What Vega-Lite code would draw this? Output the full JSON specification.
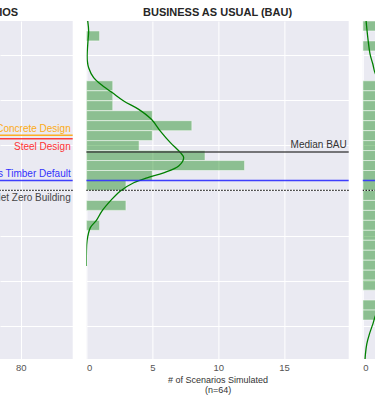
{
  "$schema": "https://vega.github.io/schema/vega-lite/v6.json",
  "padding": {"left": -1, "right": 0, "top": 7, "bottom": 0},
  "spacing": 13.4,
  "bounds": "flush",
  "datasets": {
    "refs": [
      {"label": "Concrete Design", "value": 122},
      {"label": "Steel Design", "value": 114},
      {"label": "Mass Timber Default", "value": 22},
      {"label": "Net Zero Building", "value": 0},
      {"label": "Median BAU", "value": 85}
    ],
    "bau_hist": [
      {"y0": 330, "y1": 352, "count": 1},
      {"y0": 220, "y1": 242, "count": 2},
      {"y0": 198, "y1": 220, "count": 2},
      {"y0": 176, "y1": 198, "count": 2},
      {"y0": 154, "y1": 176, "count": 5},
      {"y0": 132, "y1": 154, "count": 8},
      {"y0": 110, "y1": 132, "count": 5},
      {"y0": 88, "y1": 110, "count": 4},
      {"y0": 66, "y1": 88, "count": 9},
      {"y0": 44, "y1": 66, "count": 12},
      {"y0": 22, "y1": 44, "count": 5},
      {"y0": 0, "y1": 22, "count": 3},
      {"y0": -44, "y1": -22, "count": 3},
      {"y0": -88, "y1": -66, "count": 1}
    ],
    "bau_kde": [
      {"count": 0.1, "value": 374},
      {"count": 0.17, "value": 352},
      {"count": 0.12, "value": 330},
      {"count": 0.06, "value": 301},
      {"count": 0.07, "value": 286},
      {"count": 0.17, "value": 271},
      {"count": 0.55, "value": 249},
      {"count": 1.06, "value": 235},
      {"count": 1.95, "value": 216},
      {"count": 2.83, "value": 197.5},
      {"count": 3.97, "value": 179},
      {"count": 4.93, "value": 157},
      {"count": 5.61, "value": 131},
      {"count": 6.37, "value": 105.5},
      {"count": 7.13, "value": 83.4},
      {"count": 7.38, "value": 72.4},
      {"count": 7.0, "value": 54},
      {"count": 5.86, "value": 39},
      {"count": 4.6, "value": 28},
      {"count": 3.59, "value": 17},
      {"count": 2.58, "value": -1},
      {"count": 1.82, "value": -23},
      {"count": 1.19, "value": -45},
      {"count": 0.76, "value": -66},
      {"count": 0.3, "value": -82},
      {"count": 0.05, "value": -111},
      {"count": 0.0, "value": -140},
      {"count": 0.0, "value": -167}
    ],
    "alt_hist": [
      {"y0": 352, "y1": 374, "count": 1},
      {"y0": 308, "y1": 330, "count": 1},
      {"y0": 220, "y1": 242, "count": 2},
      {"y0": 198, "y1": 220, "count": 3},
      {"y0": 176, "y1": 198, "count": 3},
      {"y0": 154, "y1": 176, "count": 4},
      {"y0": 132, "y1": 154, "count": 5},
      {"y0": 110, "y1": 132, "count": 6},
      {"y0": 88, "y1": 110, "count": 6},
      {"y0": 66, "y1": 88, "count": 7},
      {"y0": 44, "y1": 66, "count": 7},
      {"y0": 22, "y1": 44, "count": 6},
      {"y0": 0, "y1": 22, "count": 6},
      {"y0": -22, "y1": 0, "count": 5},
      {"y0": -44, "y1": -22, "count": 5},
      {"y0": -66, "y1": -44, "count": 4},
      {"y0": -88, "y1": -66, "count": 4},
      {"y0": -110, "y1": -88, "count": 3},
      {"y0": -132, "y1": -110, "count": 3},
      {"y0": -154, "y1": -132, "count": 2},
      {"y0": -176, "y1": -154, "count": 2},
      {"y0": -198, "y1": -176, "count": 1},
      {"y0": -220, "y1": -198, "count": 2},
      {"y0": -264, "y1": -242, "count": 1},
      {"y0": -286, "y1": -264, "count": 1}
    ],
    "alt_kde": [
      {"count": 0.17, "value": -372},
      {"count": 0.2, "value": -361},
      {"count": 0.3, "value": -339},
      {"count": 0.5, "value": -317},
      {"count": 0.76, "value": -295},
      {"count": 1.01, "value": -273},
      {"count": 1.6, "value": -250},
      {"count": 3.0, "value": -190},
      {"count": 5.0, "value": -100},
      {"count": 6.0, "value": -20},
      {"count": 6.2, "value": 60},
      {"count": 5.0, "value": 140},
      {"count": 3.0, "value": 200},
      {"count": 1.6, "value": 235},
      {"count": 0.96, "value": 257},
      {"count": 0.76, "value": 279},
      {"count": 0.55, "value": 301},
      {"count": 0.38, "value": 337},
      {"count": 0.25, "value": 374}
    ]
  },
  "hconcat": [
    {
      "width": 72.7,
      "height": 338,
      "title": {"text": "IOS", "anchor": "start"},
      "layer": [
        {
          "data": {"name": "refs"},
          "transform": [{"filter": {"field": "label", "oneOf": ["Concrete Design", "Steel Design", "Mass Timber Default"]}}],
          "mark": {"type": "rule", "strokeWidth": 1.5, "opacity": 0.85},
          "encoding": {
            "y": {"field": "value", "type": "quantitative", "scale": {"domain": [-372, 374], "nice": false, "zero": false}, "axis": {"labels": false, "ticks": false, "domain": false, "grid": true, "values": [-300, -200, -100, 0, 100, 200, 300], "title": null}},
            "color": {"field": "label", "type": "nominal", "legend": null, "scale": {"domain": ["Concrete Design", "Steel Design", "Mass Timber Default", "Net Zero Building", "Median BAU"], "range": ["#FFA500", "#FF2020", "#2020FF", "#333333", "#333333"]}}
          }
        },
        {
          "data": {"name": "refs"},
          "transform": [{"filter": {"field": "label", "equal": "Net Zero Building"}}],
          "mark": {"type": "rule", "strokeWidth": 1.3, "strokeDash": [1.5, 1.5], "color": "#222222"},
          "encoding": {
            "y": {"field": "value", "type": "quantitative", "scale": {"domain": [-372, 374], "nice": false, "zero": false}, "axis": {"labels": false, "ticks": false, "domain": false, "grid": true, "values": [-300, -200, -100, 0, 100, 200, 300], "title": null}}
          }
        },
        {
          "data": {"name": "refs"},
          "transform": [{"filter": {"field": "label", "oneOf": ["Concrete Design", "Mass Timber Default"]}}],
          "mark": {"type": "text", "align": "right", "baseline": "alphabetic", "dx": -2, "dy": -3, "fontSize": 10, "clip": true, "opacity": 0.9},
          "encoding": {
            "x": {"datum": 83.95, "type": "quantitative", "scale": {"domain": [78.43, 83.95], "nice": false, "zero": false}, "axis": {"values": [80], "grid": true, "title": null}},
            "y": {"field": "value", "type": "quantitative", "scale": {"domain": [-372, 374], "nice": false, "zero": false}, "axis": {"labels": false, "ticks": false, "domain": false, "grid": true, "values": [-300, -200, -100, 0, 100, 200, 300], "title": null}},
            "text": {"field": "label"},
            "color": {"field": "label", "type": "nominal", "legend": null, "scale": {"domain": ["Concrete Design", "Steel Design", "Mass Timber Default", "Net Zero Building", "Median BAU"], "range": ["#FFA500", "#FF2020", "#2020FF", "#333333", "#333333"]}}
          }
        },
        {
          "data": {"name": "refs"},
          "transform": [{"filter": {"field": "label", "oneOf": ["Steel Design", "Net Zero Building"]}}],
          "mark": {"type": "text", "align": "right", "baseline": "top", "dx": -2, "dy": 3, "fontSize": 10, "clip": true, "opacity": 0.9},
          "encoding": {
            "x": {"datum": 83.95, "type": "quantitative", "scale": {"domain": [78.43, 83.95], "nice": false, "zero": false}, "axis": {"values": [80], "grid": true, "title": null}},
            "y": {"field": "value", "type": "quantitative", "scale": {"domain": [-372, 374], "nice": false, "zero": false}, "axis": {"labels": false, "ticks": false, "domain": false, "grid": true, "values": [-300, -200, -100, 0, 100, 200, 300], "title": null}},
            "text": {"field": "label"},
            "color": {"field": "label", "type": "nominal", "legend": null, "scale": {"domain": ["Concrete Design", "Steel Design", "Mass Timber Default", "Net Zero Building", "Median BAU"], "range": ["#FFA500", "#FF2020", "#2020FF", "#333333", "#333333"]}}
          }
        }
      ]
    },
    {
      "width": 262.3,
      "height": 338,
      "title": {"text": "BUSINESS AS USUAL (BAU)", "anchor": "middle"},
      "layer": [
        {
          "data": {"name": "bau_hist"},
          "mark": {"type": "rect", "fill": "#008000", "fillOpacity": 0.4, "stroke": "#ffffff", "strokeOpacity": 0.5, "strokeWidth": 1},
          "encoding": {
            "x": {"field": "count", "type": "quantitative", "scale": {"domain": [0, 19.9], "nice": false, "zero": false}, "axis": {"values": [0, 5, 10, 15], "grid": true, "title": ["# of Scenarios Simulated", "(n=64)"]}},
            "x2": {"datum": 0},
            "y": {"field": "y0", "type": "quantitative", "scale": {"domain": [-372, 374], "nice": false, "zero": false}, "axis": {"labels": false, "ticks": false, "domain": false, "grid": true, "values": [-300, -200, -100, 0, 100, 200, 300], "title": null}},
            "y2": {"field": "y1"}
          }
        },
        {
          "data": {"name": "bau_kde"},
          "mark": {"type": "line", "color": "#008000", "strokeWidth": 1.3, "interpolate": "catmull-rom", "clip": true},
          "encoding": {
            "x": {"field": "count", "type": "quantitative", "scale": {"domain": [0, 19.9], "nice": false, "zero": false}, "axis": {"values": [0, 5, 10, 15], "grid": true, "title": ["# of Scenarios Simulated", "(n=64)"]}},
            "y": {"field": "value", "type": "quantitative", "scale": {"domain": [-372, 374], "nice": false, "zero": false}, "axis": {"labels": false, "ticks": false, "domain": false, "grid": true, "values": [-300, -200, -100, 0, 100, 200, 300], "title": null}},
            "order": {"field": "value", "type": "quantitative"}
          }
        },
        {
          "data": {"name": "refs"},
          "transform": [{"filter": {"field": "label", "oneOf": ["Median BAU", "Mass Timber Default"]}}],
          "mark": {"type": "rule", "strokeWidth": 1.5, "opacity": 0.85},
          "encoding": {
            "y": {"field": "value", "type": "quantitative", "scale": {"domain": [-372, 374], "nice": false, "zero": false}, "axis": {"labels": false, "ticks": false, "domain": false, "grid": true, "values": [-300, -200, -100, 0, 100, 200, 300], "title": null}},
            "color": {"field": "label", "type": "nominal", "legend": null, "scale": {"domain": ["Concrete Design", "Steel Design", "Mass Timber Default", "Net Zero Building", "Median BAU"], "range": ["#FFA500", "#FF2020", "#2020FF", "#333333", "#222222"]}}
          }
        },
        {
          "data": {"name": "refs"},
          "transform": [{"filter": {"field": "label", "equal": "Net Zero Building"}}],
          "mark": {"type": "rule", "strokeWidth": 1.3, "strokeDash": [1.5, 1.5], "color": "#222222"},
          "encoding": {
            "y": {"field": "value", "type": "quantitative", "scale": {"domain": [-372, 374], "nice": false, "zero": false}, "axis": {"labels": false, "ticks": false, "domain": false, "grid": true, "values": [-300, -200, -100, 0, 100, 200, 300], "title": null}}
          }
        },
        {
          "data": {"name": "refs"},
          "transform": [{"filter": {"field": "label", "equal": "Median BAU"}}],
          "mark": {"type": "text", "align": "right", "baseline": "alphabetic", "dx": -2, "dy": -4, "fontSize": 10, "color": "#333333"},
          "encoding": {
            "x": {"datum": 19.9, "type": "quantitative", "scale": {"domain": [0, 19.9], "nice": false, "zero": false}, "axis": {"values": [0, 5, 10, 15], "grid": true, "title": ["# of Scenarios Simulated", "(n=64)"]}},
            "y": {"field": "value", "type": "quantitative", "scale": {"domain": [-372, 374], "nice": false, "zero": false}, "axis": {"labels": false, "ticks": false, "domain": false, "grid": true, "values": [-300, -200, -100, 0, 100, 200, 300], "title": null}},
            "text": {"field": "label"}
          }
        }
      ]
    },
    {
      "width": 13.2,
      "height": 338,
      "layer": [
        {
          "data": {"name": "alt_hist"},
          "mark": {"type": "rect", "fill": "#008000", "fillOpacity": 0.4, "stroke": "#ffffff", "strokeOpacity": 0.5, "strokeWidth": 1, "clip": true},
          "encoding": {
            "x": {"field": "count", "type": "quantitative", "scale": {"domain": [0, 1.0], "nice": false, "zero": false}, "axis": {"values": [0], "grid": true, "title": null}},
            "x2": {"datum": 0},
            "y": {"field": "y0", "type": "quantitative", "scale": {"domain": [-372, 374], "nice": false, "zero": false}, "axis": {"labels": false, "ticks": false, "domain": false, "grid": true, "values": [-300, -200, -100, 0, 100, 200, 300], "title": null}},
            "y2": {"field": "y1"}
          }
        },
        {
          "data": {"name": "alt_kde"},
          "mark": {"type": "line", "color": "#008000", "strokeWidth": 1.3, "interpolate": "catmull-rom", "clip": true},
          "encoding": {
            "x": {"field": "count", "type": "quantitative", "scale": {"domain": [0, 1.0], "nice": false, "zero": false}, "axis": {"values": [0], "grid": true, "title": null}},
            "y": {"field": "value", "type": "quantitative", "scale": {"domain": [-372, 374], "nice": false, "zero": false}, "axis": {"labels": false, "ticks": false, "domain": false, "grid": true, "values": [-300, -200, -100, 0, 100, 200, 300], "title": null}},
            "order": {"field": "value", "type": "quantitative"}
          }
        },
        {
          "data": {"name": "refs"},
          "transform": [{"filter": {"field": "label", "equal": "Mass Timber Default"}}],
          "mark": {"type": "rule", "strokeWidth": 1.5, "opacity": 0.85, "color": "#2020FF"},
          "encoding": {
            "y": {"field": "value", "type": "quantitative", "scale": {"domain": [-372, 374], "nice": false, "zero": false}, "axis": {"labels": false, "ticks": false, "domain": false, "grid": true, "values": [-300, -200, -100, 0, 100, 200, 300], "title": null}}
          }
        },
        {
          "data": {"name": "refs"},
          "transform": [{"filter": {"field": "label", "equal": "Net Zero Building"}}],
          "mark": {"type": "rule", "strokeWidth": 1.3, "strokeDash": [1.5, 1.5], "color": "#222222"},
          "encoding": {
            "y": {"field": "value", "type": "quantitative", "scale": {"domain": [-372, 374], "nice": false, "zero": false}, "axis": {"labels": false, "ticks": false, "domain": false, "grid": true, "values": [-300, -200, -100, 0, 100, 200, 300], "title": null}}
          }
        }
      ]
    }
  ],
  "config": {
    "font": "Liberation Sans",
    "view": {"fill": "#EAEAF2", "stroke": null},
    "axis": {
      "gridColor": "#ffffff",
      "gridWidth": 1,
      "gridOpacity": 1,
      "domain": false,
      "ticks": false,
      "labelFont": "Liberation Sans",
      "labelFontSize": 9.5,
      "labelColor": "#555555",
      "labelPadding": 3,
      "titleFont": "Liberation Sans",
      "titleFontSize": 9,
      "titleFontWeight": "normal",
      "titleColor": "#333333",
      "titlePadding": 4,
      "titleLineHeight": 10
    },
    "title": {"font": "Liberation Sans", "fontSize": 11, "fontWeight": "bold", "color": "#262626", "offset": 3},
    "text": {"font": "Liberation Sans"}
  }
}
